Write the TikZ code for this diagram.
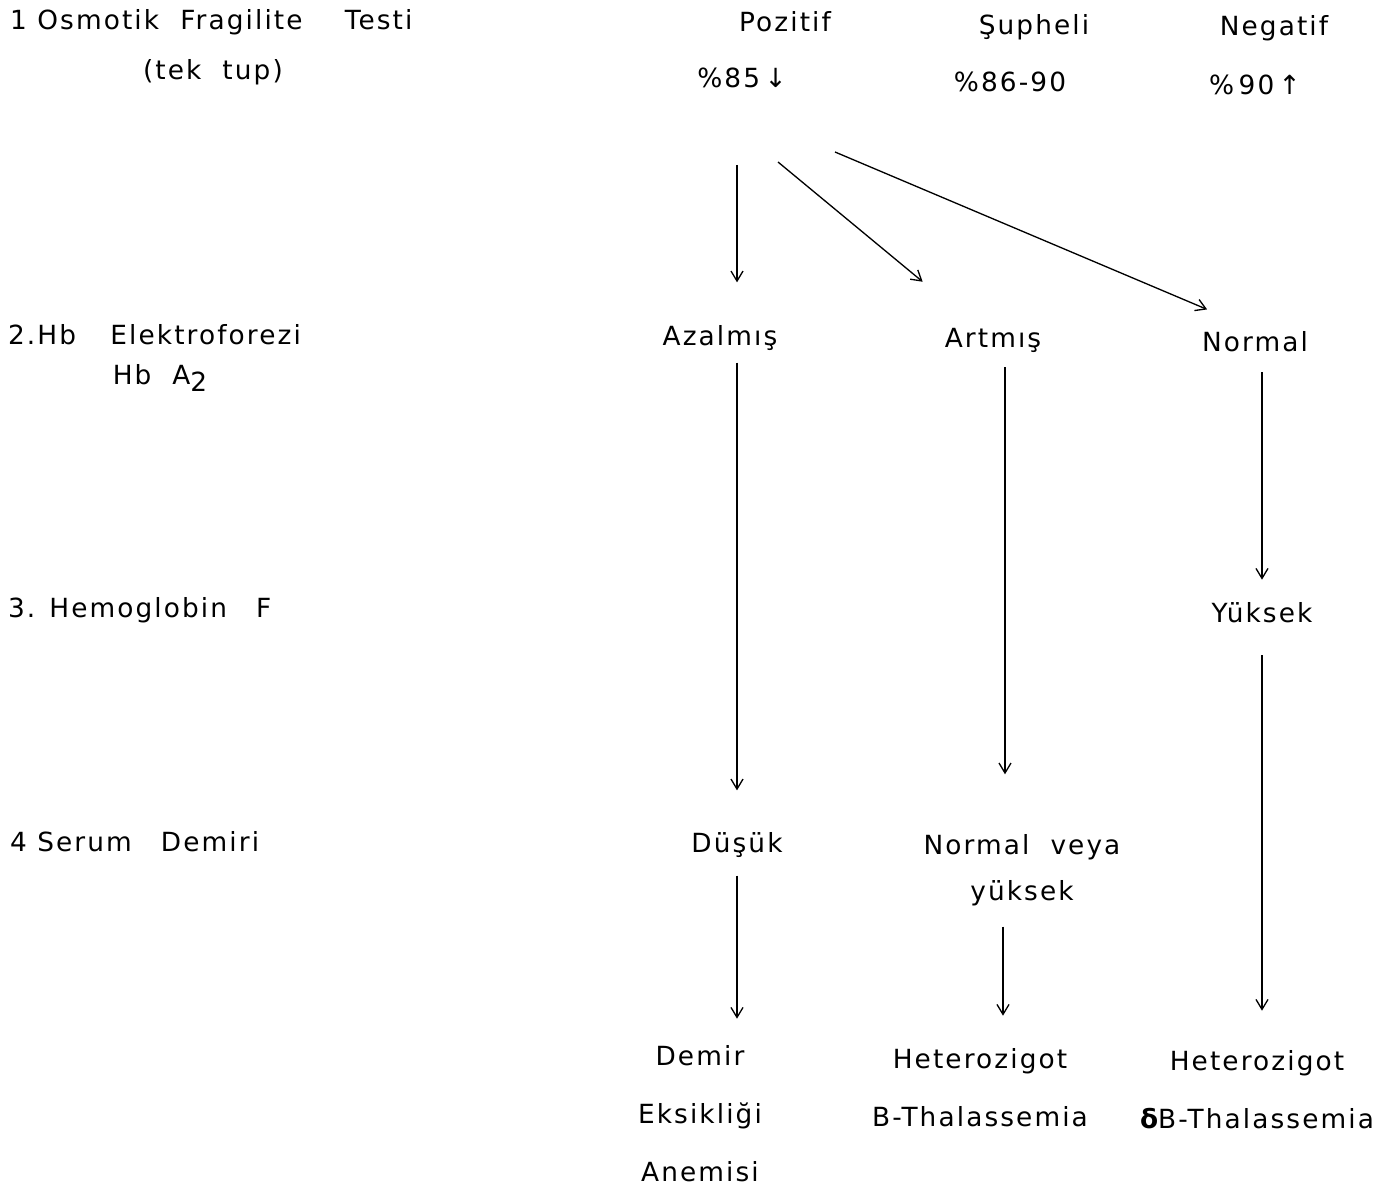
\documentclass[tikz,border=0pt]{standalone}
\usepackage{fontspec}
\setmainfont{DejaVu Sans}[LetterSpace=8]
\usetikzlibrary{arrows.meta, positioning}

\newcommand{\wgap}{\hspace{1.1em}}

\begin{document}
\begin{tikzpicture}[
    x=0.02cm, y=-0.02cm,
    every node/.style={font=\fontsize{15}{18}\selectfont, inner sep=1pt},
    testname/.style={anchor=west},
    finding/.style={align=center},
    verdict/.style={align=center, font=\fontsize{15}{33}\selectfont},
    arrow/.style={
        line width=0.75pt,
        -{Straight Barb[length=2mm, width=2.4mm]}
    }
]
\useasboundingbox (0,0) rectangle (1394,1192);

% Tests (left column)
\node (test1) [testname] at (8,22) {1 Osmotik\hspace{0.8em}Fragilite\hspace{1.6em}Testi};
\node (tube) at (213,72) {(tek\ \ tup)};
\node (test2) [testname] at (6,335) {2.Hb\hspace{1.3em}Elektroforezi};
\node (hba2) at (160,378) {Hb\ \ A\raisebox{-0.45ex}{2}};
\node (test3) [testname] at (6,610) {3. Hemoglobin\wgap F};
\node (test4) [testname] at (8,842) {4 Serum\wgap Demiri};

% Fragility classes
\node (pozitif) at (785,22) {Pozitif};
\node (pos85) at (742,78) {\%85\,↓};
\node (supheli) at (1034,27) {Şupheli};
\node (pos86) at (1010,82) {\%86-90};
\node (negatif) at (1274,28) {Negatif};
\node (pos90) at (1255,85) {\%\,90\,↑};

% Electrophoresis
\node (azalmis) at (720,338) {Azalmış};
\node (artmis) at (993,340) {Artmış};
\node (normal) at (1255,342) {Normal};

% Hb F
\node (yuksek) at (1262,613) {Yüksek};

% Serum iron
\node (dusuk) at (737,845) {Düşük};
\node (normalveya) [finding] at (1022,870) {Normal\ \ veya\\[8pt]yüksek};

% Diagnoses
\node (demir) [verdict] at (700,1114) {Demir\\Eksikliği\\Anemisi};
\node (het1) [verdict] at (980,1088) {Heterozigot\\B-Thalassemia};
\node (het2) [verdict] at (1257,1090) {Heterozigot\\{\bfseries δ}B-Thalassemia};

% Arrows - from the positive result
\coordinate (fork1) at (737,165);
\coordinate (fork2) at (778,162);
\coordinate (fork3) at (835,152);
\draw [arrow, shorten >=0.82cm] (fork1) -- (fork1 |- azalmis.north);
\draw [arrow, shorten >=1.38cm] (fork2) -- (artmis);
\draw [arrow, shorten >=1.04cm] (fork3) -- (normal.north);

% Arrows - columns
\draw [arrow, shorten <=0.2cm, shorten >=0.8cm] (dusuk.north |- azalmis.south) -- (dusuk.north);
\draw [arrow, shorten <=0.32cm, shorten >=0.5cm] (dusuk.south) -- (dusuk.south |- demir.north);
\draw [arrow, shorten <=0.26cm, shorten >=1.16cm] ([xshift=0.24cm]artmis.south) -- ([xshift=0.24cm]artmis.south |- normalveya.north);
\draw [arrow, shorten <=0.38cm, shorten >=0.62cm] ([xshift=-0.38cm]normalveya.south) -- ([xshift=-0.38cm]normalveya.south |- het1.north);
\draw [arrow, shorten <=0.36cm, shorten >=0.42cm] (yuksek.north |- normal.south) -- (yuksek.north);
\draw [arrow, shorten <=0.6cm, shorten >=0.76cm] (yuksek.south) -- (yuksek.south |- het2.north);

\end{tikzpicture}
\end{document}
